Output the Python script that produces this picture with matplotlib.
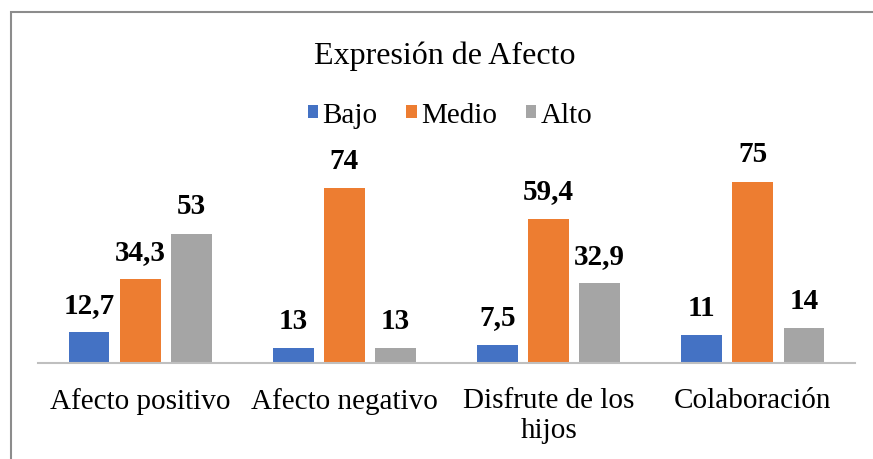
import numpy as np
import matplotlib.pyplot as plt
from matplotlib.patches import Rectangle

# datos
categorias = ['Afecto positivo', 'Afecto negativo', 'Disfrute de los\nhijos', 'Colaboración']
series = ['Bajo', 'Medio', 'Alto']
# alturas de barra tal como se ven en el grafico
bajo = [12.7, 6.2, 7.5, 11.5]
medio = [34.3, 71.7, 59.2, 74.3]
alto = [53, 6.2, 32.8, 14.3]
# etiquetas de datos escritas en el grafico
etq_bajo = ['12,7', '13', '7,5', '11']
etq_medio = ['34,3', '74', '59,4', '75']
etq_alto = ['53', '13', '32,9', '14']
colores = ['#4472C4', '#ED7D31', '#A5A5A5']

plt.rcParams['font.family'] = 'serif'
plt.rcParams['font.serif'] = ['Liberation Serif', 'Times New Roman', 'DejaVu Serif']

fig = plt.figure(figsize=(8.73, 4.60), dpi=100)
# borde del grafico (recortado a la derecha y abajo)
fig.patches.append(Rectangle((11/873, -0.1), 1.2, 1 - 13/460 + 0.1, transform=fig.transFigure,
                             fill=False, edgecolor='#8c8c8c', linewidth=1.5))

ax = fig.add_axes([38/873, 96/460, 817/873, 195.2/460])
x = np.arange(len(categorias))
w = 0.2
step = 0.25

for i, (vals, etqs, nombre, c) in enumerate(zip([bajo, medio, alto], [etq_bajo, etq_medio, etq_alto],
                                                 series, colores)):
    bars = ax.bar(x + (i - 1) * step, vals, w, color=c, label=nombre)
    for b, v, t in zip(bars, vals, etqs):
        ax.annotate(t, (b.get_x() + b.get_width() / 2, v), xytext=(0, 20), textcoords='offset points',
                    ha='center', va='center', fontsize=21, fontweight='bold')

ax.set_xlim(-0.5, len(categorias) - 0.5)
ax.set_ylim(0, 80)
ax.set_yticks([])
for s in ['top', 'right', 'left']:
    ax.spines[s].set_visible(False)
ax.spines['bottom'].set_color('#bfbfbf')
ax.spines['bottom'].set_linewidth(1.5)
ax.set_xticks(x)
ax.set_xticklabels(categorias, fontsize=21, linespacing=1.2)
ax.tick_params(axis='x', length=0, pad=17)

fig.text(445/873, 1 - 56/460, 'Expresión de Afecto', ha='center', va='center', fontsize=23)
fig.legend(loc='center', bbox_to_anchor=(450/873, 1 - 116/460), ncol=3, frameon=False,
           fontsize=21, handlelength=0.35, handleheight=0.35, handletextpad=0.15, columnspacing=1.0)

fig.savefig('out.png', dpi=100)
